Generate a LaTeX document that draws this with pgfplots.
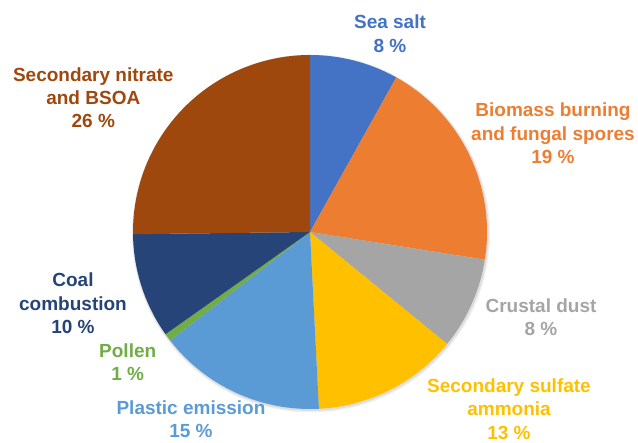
\documentclass[border=0pt]{standalone}
\usepackage{fontspec}
\setmainfont{Liberation Sans}
\usepackage{pgfplots}
\usepackage{pgfplotstable}
\pgfplotsset{compat=1.18}
\definecolor{col0}{HTML}{4472C4}
\definecolor{col1}{HTML}{ED7D31}
\definecolor{col2}{HTML}{A5A5A5}
\definecolor{col3}{HTML}{FFC000}
\definecolor{col4}{HTML}{5B9BD5}
\definecolor{col5}{HTML}{70AD47}
\definecolor{col6}{HTML}{264478}
\definecolor{col7}{HTML}{9E480E}
\tikzset{lbl/.style={align=center, inner sep=0pt, font=\fontsize{19}{23.3}\selectfont\bfseries}}
\pgfplotstableread{
name value
SeaSalt 8.1
Biomass 19.4
Crustal 8.4
Sulfate 13.3
Plastic 15.3
Pollen 0.7
Coal 9.6
Nitrate 25.2
}\piedata
\pgfplotstablegetrowsof{\piedata}
\pgfmathtruncatemacro\nrows{\pgfplotsretval-1}
\gdef\cum{0}
\foreach \i in {0,...,\nrows}{%
  \pgfplotstablegetelem{\i}{value}\of\piedata
  \pgfmathsetmacro\a{90-3.6*\cum}%
  \pgfmathsetmacro\newcum{\cum+\pgfplotsretval}%
  \pgfmathsetmacro\b{90-3.6*\newcum}%
  \expandafter\xdef\csname pieA\i\endcsname{\a}%
  \expandafter\xdef\csname pieB\i\endcsname{\b}%
  \xdef\cum{\newcum}%
}
\begin{document}
\begin{tikzpicture}
\begin{axis}[x=1pt, y=1pt, xmin=0, xmax=638, ymin=0, ymax=443,
  hide axis, scale only axis, clip=false]
\path (axis cs:0,0) rectangle (axis cs:638,443);
\fill[black, opacity=0.06] (axis cs:311,209.5) circle[radius=179pt];
\fill[black, opacity=0.08] (axis cs:310.7,210) circle[radius=178pt];
\pgfplotsinvokeforeach{0,...,7}{
  \fill[col#1] (axis cs:310,211) -- ++(\csname pieA#1\endcsname:177pt)
    arc[start angle=\csname pieA#1\endcsname, end angle=\csname pieB#1\endcsname, radius=177pt] -- cycle;
}
\node[lbl, text=col0] at (axis cs:390,409.3) {Sea salt\\8 \%};
\node[lbl, text=col1] at (axis cs:553,309.7) {Biomass burning\\and fungal spores\\19 \%};
\node[lbl, text=col2] at (axis cs:541,125.5) {Crustal dust\\8 \%};
\node[lbl, text=col3] at (axis cs:509,34) {Secondary sulfate\\ammonia\\13 \%};
\node[lbl, text=col4] at (axis cs:191,23.5) {Plastic emission\\15 \%};
\node[lbl, text=col5] at (axis cs:127.7,80.8) {Pollen\\1 \%};
\node[lbl, text=col6] at (axis cs:73,139.7) {Coal\\combustion\\10 \%};
\node[lbl, text=col7] at (axis cs:93.3,345.2) {Secondary nitrate\\and BSOA\\26 \%};
\end{axis}
\end{tikzpicture}
\end{document}
